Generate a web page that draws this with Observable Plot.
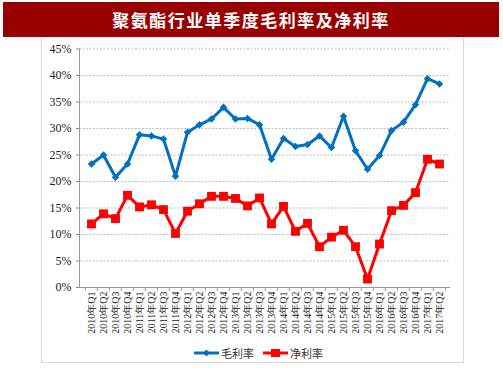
<!DOCTYPE html>
<html>
<head>
<meta charset="utf-8">
<script src="https://cdn.jsdelivr.net/npm/d3@7"></script>
<script src="https://cdn.jsdelivr.net/npm/@observablehq/plot@0.6"></script>
<style>
  html, body { margin: 0; padding: 0; background: #fff; }
  body { width: 503px; height: 378px; position: relative; overflow: hidden; }
  #title {
    position: absolute; left: 3px; top: 2px; width: 496px; height: 35px;
    background: #990000; color: #fff; text-align: center;
    font-family: "Noto Sans CJK SC", sans-serif; font-weight: bold;
    font-size: 17px; line-height: 35px; letter-spacing: 1.5px;
  }
  #frame {
    position: absolute; left: 41px; top: 37px; width: 421px; height: 325px;
    border: 1px solid #d9d9d9; border-top: none;
  }
  #chart { position: absolute; left: 0; top: 37px; }
  #legend {
    position: absolute; left: 0; top: 345px; width: 503px; height: 16px;
    font-family: "Noto Sans CJK SC", sans-serif; font-size: 11px; color: #333;
  }
  .lg { position: absolute; top: 0; display: flex; align-items: center; height: 16px; }
  .lg svg { margin-right: 2px; }
</style>
</head>
<body>
<div id="title">聚氨酯行业单季度毛利率及净利率</div>
<div id="frame"></div>
<div id="chart"></div>
<div id="legend">
  <div class="lg" style="left:194px"><svg width="25" height="10"><line x1="0" y1="5" x2="25" y2="5" stroke="#0070C0" stroke-width="3"/><path d="M12.5,1.5 L16,5 L12.5,8.5 L9,5 Z" fill="#0070C0"/></svg><span>毛利率</span></div>
  <div class="lg" style="left:263px"><svg width="25" height="10"><line x1="0" y1="5" x2="25" y2="5" stroke="#FF0000" stroke-width="3"/><rect x="8" y="1" width="9" height="8" fill="#FF0000"/></svg><span>净利率</span></div>
</div>
<script>
const quarters = [
  "2010年Q1","2010年Q2","2010年Q3","2010年Q4",
  "2011年Q1","2011年Q2","2011年Q3","2011年Q4",
  "2012年Q1","2012年Q2","2012年Q3","2012年Q4",
  "2013年Q1","2013年Q2","2013年Q3","2013年Q4",
  "2014年Q1","2014年Q2","2014年Q3","2014年Q4",
  "2015年Q1","2015年Q2","2015年Q3","2015年Q4",
  "2016年Q1","2016年Q2","2016年Q3","2016年Q4",
  "2017年Q1","2017年Q2"
];
const grossMargin = [
  23.3, 25.0, 20.8, 23.3, 28.8, 28.6, 28.0, 21.0,
  29.3, 30.7, 31.8, 34.0, 31.8, 31.9, 30.7, 24.2,
  28.1, 26.6, 27.0, 28.6, 26.4, 32.3, 25.8, 22.3,
  24.9, 29.6, 31.2, 34.5, 39.4, 38.4
];
const netMargin = [
  12.0, 13.9, 13.0, 17.4, 15.2, 15.6, 14.7, 10.2,
  14.4, 15.8, 17.2, 17.2, 16.8, 15.4, 16.9, 12.0,
  15.3, 10.6, 12.1, 7.7, 9.5, 10.8, 7.7, 1.6,
  8.2, 14.5, 15.5, 17.9, 24.2, 23.3
];
const yTicks = [0, 5, 10, 15, 20, 25, 30, 35, 40, 45];

const gross = quarters.map((q, i) => ({q, v: grossMargin[i]}));
const net = quarters.map((q, i) => ({q, v: netMargin[i]}));

const W = 503, mL = 79, mR = 53;
const step = (W - mL - mR) / quarters.length;

const chart = Plot.plot({
  width: W,
  height: 300,
  marginLeft: mL,
  marginRight: mR,
  marginTop: 11.5,
  marginBottom: 50,
  style: { fontFamily: "'Liberation Serif', serif", fontSize: "12px", color: "#222", background: "transparent" },
  x: { type: "band", domain: quarters, padding: 0, label: null },
  y: { domain: [0, 45], label: null },
  marks: [
    Plot.gridY(yTicks.filter(d => d > 0), { stroke: "#bfbfbf", strokeOpacity: 1, strokeDasharray: "2,1.5" }),
    Plot.axisY(yTicks, { tickFormat: d => d + "%", tickSize: 3, tickPadding: 5, stroke: "#888", fontSize: 12 }),
    Plot.axisX({ tickSize: 0, tickPadding: 4, tickRotate: -90, fontSize: 10, textAnchor: "end" }),
    Plot.ruleX(quarters, { x: d => d, y1: 0, y2: -0.75, dx: -step / 2, stroke: "#999" }),
    Plot.ruleX(quarters.slice(-1), { x: d => d, y1: 0, y2: -0.75, dx: step / 2, stroke: "#999" }),
    Plot.ruleY([0], { stroke: "#999", strokeWidth: 1 }),
    Plot.frame({ anchor: "left", stroke: "#999" }),
    Plot.line(gross, { x: "q", y: "v", stroke: "#0070C0", strokeWidth: 3 }),
    Plot.dot(gross, { x: "q", y: "v", symbol: "diamond2", r: 3.4, fill: "#0070C0" }),
    Plot.line(net, { x: "q", y: "v", stroke: "#FF0000", strokeWidth: 3 }),
    Plot.dot(net, { x: "q", y: "v", symbol: "square", r: 5, fill: "#FF0000" })
  ]
});
document.getElementById("chart").appendChild(chart);
</script>
</body>
</html>
